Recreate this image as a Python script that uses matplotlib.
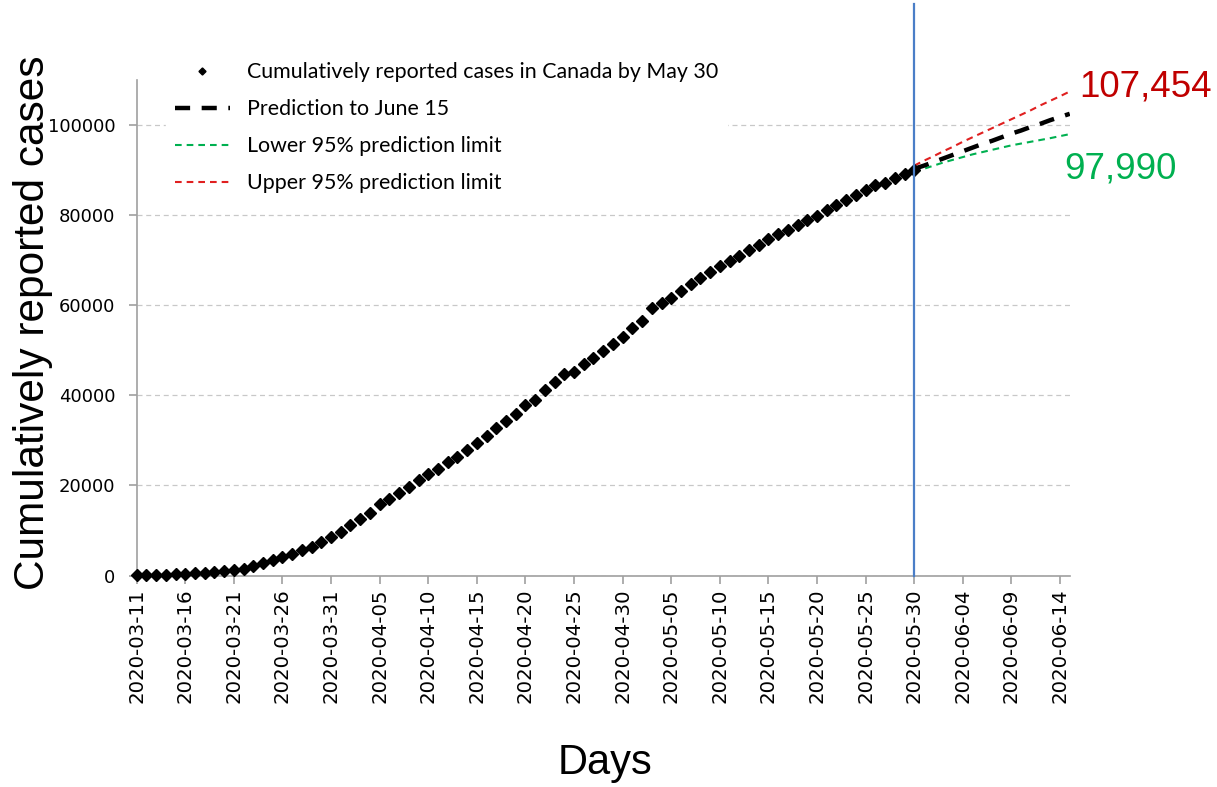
import matplotlib
matplotlib.use("Agg")
import matplotlib.pyplot as plt
import pandas as pd

# Reported cumulative cases, one value per day from 2020-03-11 to 2020-05-30
obs_start = "2020-03-11"
cases = [100, 140, 190, 200, 250, 420, 480, 660, 800, 940,
         1280, 1470, 2090, 2790, 3410, 4040, 4760, 5660, 6320, 7400,
         8530, 9600, 11250, 12450, 13950, 15850, 17050, 18250, 19550, 21150,
         22650, 23750, 25100, 26250, 27950, 29350, 31000, 32650, 34350, 35800,
         37750, 39050, 41100, 42900, 44750, 45250, 46850, 48250, 49950, 51300,
         53000, 54950, 56500, 59350, 60500, 61650, 63150, 64800, 66150, 67450,
         68650, 69850, 70950, 72200, 73350, 74600, 75900, 76800, 77800, 78900,
         79800, 81100, 82200, 83400, 84500, 85500, 86600, 87200, 88300, 89100,
         90000]

# Model prediction and 95% limits, 2020-05-30 to 2020-06-15
pred_start = "2020-05-30"
pred_mean = [90300, 91000, 91800, 92600, 93400, 94200, 95000, 95800, 96500,
             97300, 98100, 98800, 99600, 100300, 101100, 101800, 102500]
pred_lower = [89500, 90300, 91000, 91700, 92300, 92900, 93500, 94000, 94500,
              95000, 95500, 95900, 96300, 96700, 97100, 97550, 97990]
pred_upper = [91000, 92100, 93100, 94200, 95200, 96300, 97300, 98300, 99300,
              100300, 101300, 102300, 103300, 104400, 105400, 106400, 107454]

cutoff = "2020-05-30"
tick_labels = ["2020-03-11", "2020-03-16", "2020-03-21", "2020-03-26", "2020-03-31",
               "2020-04-05", "2020-04-10", "2020-04-15", "2020-04-20", "2020-04-25",
               "2020-04-30", "2020-05-05", "2020-05-10", "2020-05-15", "2020-05-20",
               "2020-05-25", "2020-05-30", "2020-06-04", "2020-06-09", "2020-06-14"]
yticks = [0, 20000, 40000, 60000, 80000, 100000]

obs_dates = pd.date_range(obs_start, periods=len(cases), freq="D")
pred_dates = pd.date_range(pred_start, periods=len(pred_mean), freq="D")

fig = plt.figure(figsize=(12.17, 7.87), dpi=100)
ax = fig.add_axes([0.1123, 0.2687, 0.7667, 0.6296])

ax.plot(obs_dates, cases, linestyle="none", marker="D", markersize=6.5,
        color="black", clip_on=False, zorder=4,
        label="Cumulatively reported cases in Canada by May 30")
ax.plot(pred_dates, pred_mean, color="black", linewidth=3.2,
        dashes=(3.4, 2.6), zorder=5, label="Prediction to June 15")
ax.plot(pred_dates, pred_lower, color="#00B050", linewidth=1.5,
        dashes=(3.2, 2.4), zorder=3, label="Lower 95% prediction limit")
ax.plot(pred_dates, pred_upper, color="#E02020", linewidth=1.5,
        dashes=(3.2, 2.4), zorder=3, label="Upper 95% prediction limit")

# last observation day, drawn past the top of the plot area
cut = pd.Timestamp(cutoff)
ax.plot([cut, cut], [0, 126800], color="#4A7EC7", linewidth=1.6,
        clip_on=False, zorder=6)

ax.annotate(f"{pred_upper[-1]:,}", xy=(pred_dates[-1], pred_upper[-1]),
            xytext=(7, 3), textcoords="offset points", ha="left", va="center",
            fontsize=26.5, color="#C00000", family="Liberation Sans",
            annotation_clip=False)
ax.annotate(f"{pred_lower[-1]:,}", xy=(pred_dates[-1], pred_lower[-1]),
            xytext=(-4, -25), textcoords="offset points", ha="left", va="center",
            fontsize=26.5, color="#00B050", family="Liberation Sans",
            annotation_clip=False)

ax.set_xlim(pd.Timestamp("2020-03-11"), pd.Timestamp("2020-06-15"))
ax.set_ylim(0, 110000)
ax.set_xticks(pd.to_datetime(tick_labels))
ax.set_xticklabels(tick_labels, rotation=90, fontsize=14.2)
ax.set_yticks(yticks)
ax.set_yticklabels([str(v) for v in yticks], fontsize=13)

ax.grid(axis="y", color="#C8C8C8", linestyle=(0, (4, 3)), linewidth=0.9)
ax.set_axisbelow(True)
for side in ("top", "right"):
    ax.spines[side].set_visible(False)
for side in ("left", "bottom"):
    ax.spines[side].set_color("#A0A0A0")
    ax.spines[side].set_linewidth(1.2)
ax.tick_params(axis="both", colors="#A0A0A0", labelcolor="black",
               length=5.5, width=1.2, direction="out")
ax.tick_params(axis="y", pad=10)
ax.tick_params(axis="x", pad=4)

leg = ax.legend(loc="upper left", bbox_to_anchor=(0.02, 1.075), frameon=True,
                fancybox=False, framealpha=1, edgecolor="white",
                prop={"family": "Lato", "size": 15.4}, handlelength=2.6,
                labelspacing=0.8, markerscale=0.55)
leg.set_zorder(7)

fig.text(33 / 1217, 0.59, "Cumulatively reported cases", rotation=90,
         ha="center", va="center", fontsize=30.5, family="Liberation Sans")
fig.text(0.497, 0.0305, "Days", ha="center", va="center",
         fontsize=30, family="Liberation Sans")

fig.savefig("out.png", dpi=100)
